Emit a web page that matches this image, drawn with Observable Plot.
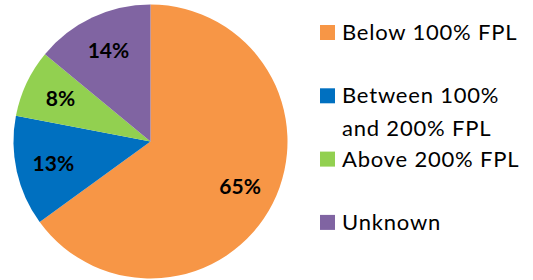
<!DOCTYPE html>
<html>
<head>
<meta charset="utf-8">
<script src="https://cdn.jsdelivr.net/npm/d3@7"></script>
<script src="https://cdn.jsdelivr.net/npm/@observablehq/plot@0.6"></script>
<style>
  html, body { margin: 0; padding: 0; background: #fff; }
  #chart { width: 533px; height: 280px; }
</style>
</head>
<body>
<div id="chart"></div>
<script>
const categories = ["Below 100% FPL", "Between 100% and 200% FPL", "Above 200% FPL", "Unknown"];
const legendLines = [["Below 100% FPL"], ["Between 100%", "and 200% FPL"], ["Above 200% FPL"], ["Unknown"]];
const values = [65, 13, 8, 14];
const labels = ["65%", "13%", "8%", "14%"];
const colors = ["#F79646", "#0070C0", "#92D050", "#8064A2"];

const data = categories.map((c, i) => ({category: c, value: values[i], label: labels[i], color: colors[i]}));
const arcs = d3.pie().sort(null).value(d => d.value).startAngle(0).endAngle(2 * Math.PI)(data);
const labelPos = arcs.map(a => {
  const m = (a.startAngle + a.endAngle) / 2;
  return {label: a.data.label, x: 0.73 * Math.sin(m), y: 0.73 * Math.cos(m)};
});

const font = "Lato, 'Open Sans', sans-serif";

function pieMark(index, scales, values, dimensions) {
  const {x, y} = scales;
  const cx = x(0), cy = y(0), r = x(1) - x(0);
  const g = d3.create("svg:g").attr("transform", `translate(${cx},${cy})`);
  const arc = d3.arc().innerRadius(0).outerRadius(r);
  g.selectAll("path").data(arcs).join("path")
    .attr("d", arc)
    .attr("fill", d => d.data.color)
    .attr("stroke", "none");
  return g.node();
}

function legendMark(index, scales, values, dimensions) {
  const g = d3.create("svg:g");
  const item = g.selectAll("g").data(data).join("g")
    .attr("transform", (d, i) => `translate(320,${40 + i * 63.3})`);
  item.append("rect").attr("x", 0).attr("y", -15).attr("width", 15).attr("height", 15)
    .attr("fill", d => d.color);
  item.each(function(d, i) {
    const t = d3.select(this).append("text")
      .attr("font-family", font).attr("font-size", 22)
      .attr("letter-spacing", "0.8px")
      .attr("text-anchor", "start").attr("fill", "#000");
    legendLines[i].forEach((line, j) => {
      t.append("tspan").attr("x", 22).attr("y", j * 33).text(line);
    });
  });
  return g.node();
}

const plot = Plot.plot({
  width: 533,
  height: 280,
  margin: 0,
  x: {domain: [-1, 1], range: [13.5, 287.5], axis: null},
  y: {domain: [-1, 1], range: [278.5, 4.5], axis: null},
  style: {fontFamily: font, background: "#fff"},
  marks: [
    pieMark,
    Plot.text(labelPos, {x: "x", y: "y", text: "label", fontSize: 21, fontWeight: "bold", fill: "#000"}),
    legendMark
  ]
});
document.getElementById("chart").appendChild(plot);
</script>
</body>
</html>
